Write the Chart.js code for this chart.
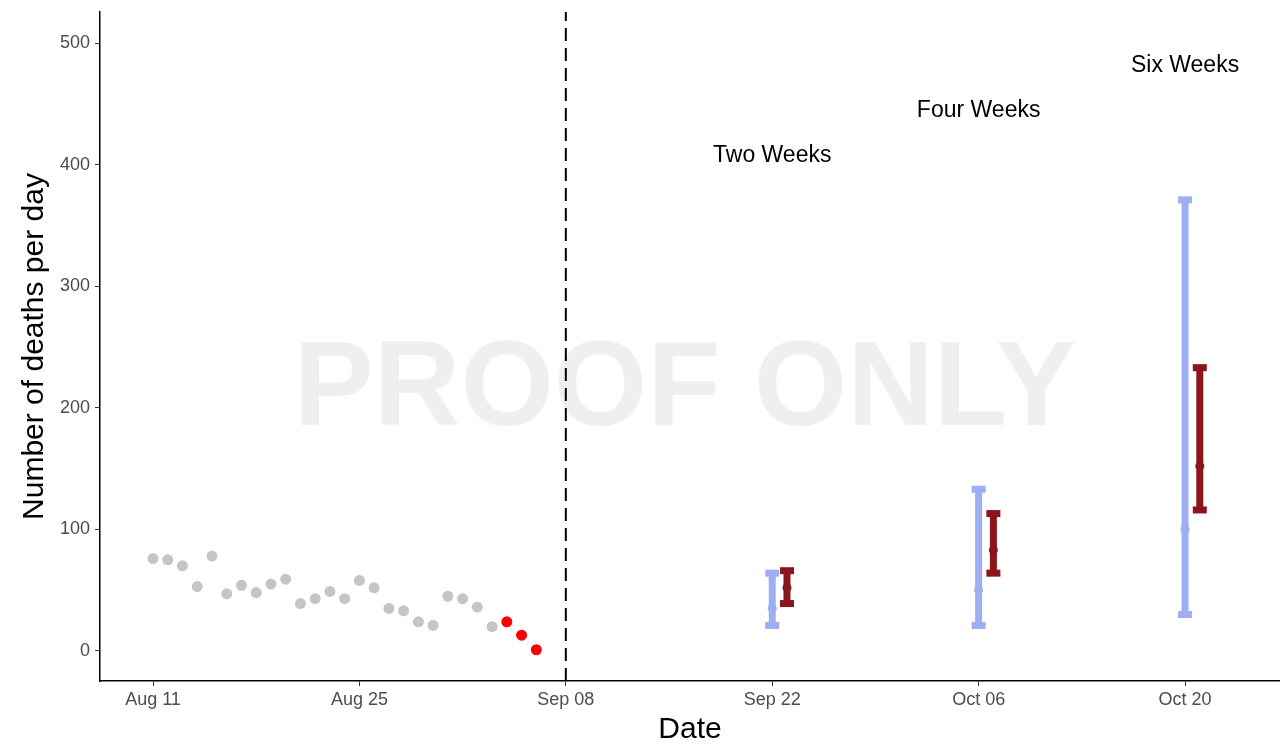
<!DOCTYPE html>
<html>
<head>
<meta charset="utf-8">
<script src="https://cdn.jsdelivr.net/npm/chart.js@4.4.1/dist/chart.umd.min.js"></script>
<style>
  html, body { margin: 0; padding: 0; background: #fff; }
  #wrap { width: 1280px; height: 750px; }
</style>
</head>
<body>
<div id="wrap"><canvas id="deathsChart" width="1280" height="750"></canvas></div>
<script>
// x positions are days after Aug 11
const tickDays = [0, 14, 28, 42, 56, 70];
const tickLabels = ['Aug 11', 'Aug 25', 'Sep 08', 'Sep 22', 'Oct 06', 'Oct 20'];
const yTicks = [0, 100, 200, 300, 400, 500];

// observed daily deaths, Aug 11 .. Sep 03 (grey) and Sep 04 .. Sep 06 (red)
const observedDays = [0, 1, 2, 3, 4, 5, 6, 7, 8, 9, 10, 11, 12, 13, 14, 15, 16, 17, 18, 19, 20, 21, 22, 23];
const observedDeaths = [76, 75, 70, 53, 78, 47, 54, 48, 55, 59, 39, 43, 49, 43, 58, 52, 35, 33, 24, 21, 45, 43, 36, 20];
const recentDays = [24, 25, 26];
const recentDeaths = [24, 13, 1];

// forecast horizons
const horizonLabels = ['Two Weeks', 'Four Weeks', 'Six Weeks'];
const horizonLabelY = [407, 444, 481];
const blueDays = [42, 56, 70];
const blueLow = [21, 21, 30];
const blueMid = [35, 50, 100];
const blueHigh = [64, 133, 371];
const redDays = [43, 57, 71];
const redLow = [39, 64, 116];
const redMid = [52, 83, 152];
const redHigh = [66, 113, 233];

const cutoffDay = 28;

const BLUE = '#9daef2';
const RED = '#8b151a';
const FONT = "'Liberation Sans', Arial, sans-serif";

function errorBar(x, lo, hi, color) {
    return {
        type: 'line',
        data: [{ x: x, y: lo }, { x: x, y: hi }],
        borderColor: color,
        borderWidth: 7,
        pointStyle: 'line',
        pointRadius: 7,
        pointBorderWidth: 7,
        pointBorderColor: color,
        pointBackgroundColor: color
    };
}

const datasets = [];

// dashed line marking the forecast date
datasets.push({
    type: 'line',
    data: [{ x: cutoffDay, y: -24.7 }, { x: cutoffDay, y: 525.5 }],
    borderColor: '#000',
    borderWidth: 2,
    borderDash: [13, 7],
    pointRadius: 0
});

datasets.push({
    data: observedDays.map((d, i) => ({ x: d, y: observedDeaths[i] })),
    backgroundColor: '#c3c5c8',
    pointRadius: 5.5,
    pointBorderWidth: 0
});
datasets.push({
    data: recentDays.map((d, i) => ({ x: d, y: recentDeaths[i] })),
    backgroundColor: '#ff0000',
    pointRadius: 5.5,
    pointBorderWidth: 0
});

blueDays.forEach((d, i) => datasets.push(errorBar(d, blueLow[i], blueHigh[i], BLUE)));
redDays.forEach((d, i) => datasets.push(errorBar(d, redLow[i], redHigh[i], RED)));

datasets.push({
    data: blueDays.map((d, i) => ({ x: d, y: blueMid[i] })),
    backgroundColor: BLUE,
    pointRadius: 4.5,
    pointBorderWidth: 0
});
datasets.push({
    data: redDays.map((d, i) => ({ x: d, y: redMid[i] })),
    backgroundColor: RED,
    pointRadius: 4.5,
    pointBorderWidth: 0
});

// watermark behind the data, horizon labels on top
const decorations = {
    id: 'decorations',
    beforeDatasetsDraw(chart) {
        const ctx = chart.ctx;
        ctx.save();
        ctx.fillStyle = '#efefef';
        ctx.font = "bold 120px " + FONT;
        ctx.textAlign = 'center';
        ctx.textBaseline = 'alphabetic';
        ctx.fillText('PROOF ONLY', 685, 425);
        ctx.restore();
    },
    afterDatasetsDraw(chart) {
        const ctx = chart.ctx;
        const xs = chart.scales.x;
        const ys = chart.scales.y;
        ctx.save();
        ctx.fillStyle = '#000';
        ctx.font = "23px " + FONT;
        ctx.textAlign = 'center';
        ctx.textBaseline = 'middle';
        horizonLabels.forEach((label, i) => {
            ctx.fillText(label, xs.getPixelForValue(blueDays[i]), ys.getPixelForValue(horizonLabelY[i]));
        });
        ctx.restore();
    }
};

new Chart(document.getElementById('deathsChart'), {
    type: 'scatter',
    data: { datasets: datasets },
    plugins: [decorations],
    options: {
        responsive: false,
        animation: false,
        layout: { autoPadding: false, padding: { top: 12, right: 0, left: 0, bottom: 0 } },
        plugins: {
            legend: { display: false },
            tooltip: { enabled: false }
        },
        scales: {
            x: {
                type: 'linear',
                min: -3.595,
                max: 76.44,
                afterFit: s => { s.height = 69; s.paddingLeft = 0; s.paddingRight = 0; },
                afterBuildTicks: s => { s.ticks = tickDays.map(v => ({ value: v })); },
                grid: { drawOnChartArea: false, drawTicks: true, tickLength: 5, color: '#333' },
                border: { display: true, color: '#000', width: 1.5 },
                ticks: {
                    autoSkip: false,
                    maxRotation: 0,
                    padding: 3,
                    color: '#4d4d4d',
                    font: { family: FONT, size: 18 },
                    callback: v => tickLabels[tickDays.indexOf(v)]
                },
                title: {
                    display: true,
                    text: 'Date',
                    color: '#000',
                    font: { family: FONT, size: 30 },
                    padding: { top: 0, bottom: 2 }
                }
            },
            y: {
                type: 'linear',
                min: -24.7,
                max: 525.5,
                afterFit: s => { s.width = 100; s.paddingTop = 0; s.paddingBottom = 0; },
                afterBuildTicks: s => { s.ticks = yTicks.map(v => ({ value: v })); },
                grid: { drawOnChartArea: false, drawTicks: true, tickLength: 5, color: '#333' },
                border: { display: true, color: '#000', width: 1.5 },
                ticks: {
                    padding: 5,
                    color: '#4d4d4d',
                    font: { family: FONT, size: 18 }
                },
                title: {
                    display: true,
                    text: 'Number of deaths per day',
                    color: '#000',
                    font: { family: FONT, size: 30 },
                    padding: { top: 17, bottom: 0 }
                }
            }
        }
    }
});
</script>
</body>
</html>
